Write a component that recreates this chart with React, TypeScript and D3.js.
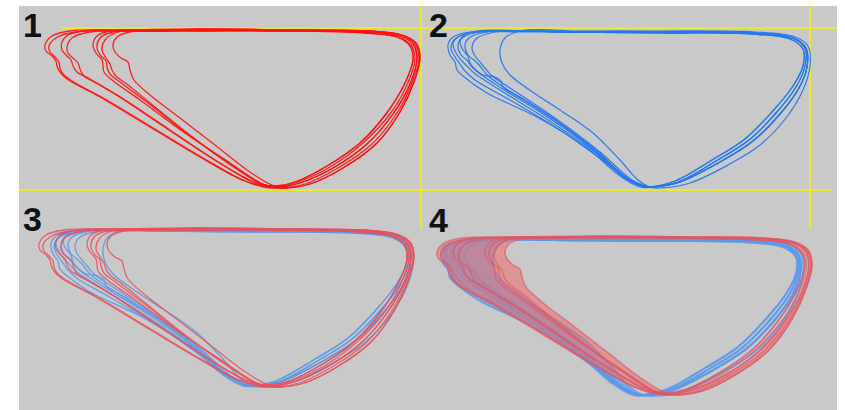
import React from 'react';
import * as d3 from 'd3';

type Pt = [number, number];

// Loop data: x = volume (arbitrary units), y = pressure (arbitrary units)
const panelLabels = ['1', '2', '3', '4'];

// shared right-hand arcs (bottom point -> right side -> top line) for the red loops
const redArcs: Pt[][] = [
  [[285, 2], [310, 6], [343, 22], [377, 47], [400, 78], [414, 108], [420, 132], [416, 147], [402, 155], [370, 159], [300, 160], [200, 161]],
  [[280, 3], [300, 7], [333, 22], [367, 46], [393, 76], [410, 106], [417, 132], [413, 146], [400, 154], [367, 158], [300, 159], [200, 160]],
  [[275, 4], [295, 8], [327, 24], [360, 47], [386, 76], [404, 105], [413, 130], [410, 144], [397, 153], [365, 157], [300, 159], [200, 159]],
  [[283, 2], [305, 6], [338, 22], [372, 46], [397, 77], [412, 107], [419, 131], [415, 146], [401, 155], [368, 159], [300, 160], [200, 160]],
  [[278, 3], [298, 8], [330, 23], [363, 47], [390, 76], [407, 105], [415, 131], [411, 145], [398, 153], [366, 158], [300, 159], [200, 160]],
];

// left-hand parts (top line -> lobe with notch -> diagonal to bottom) for the red loops
const redLobes: Pt[][] = [
  [[120, 160], [70, 159], [52, 154], [45, 145], [46, 139], [52, 134], [56, 129], [57, 124], [60, 118], [67, 111], [100, 93], [150, 63], [200, 33], [240, 11], [264, 3]],
  [[125, 159], [75, 158], [56, 152], [49, 144], [50, 138], [55, 133], [59, 128], [60, 122], [63, 116], [72, 109], [105, 91], [155, 61], [205, 31], [245, 9], [268, 3]],
  [[130, 160], [85, 159], [68, 155], [62, 148], [62, 140], [67, 134], [71, 130], [73, 124], [77, 118], [90, 111], [115, 96], [160, 66], [210, 33], [250, 10], [272, 3]],
  [[135, 159], [90, 158], [72, 152], [67, 143], [68, 137], [74, 131], [78, 127], [80, 121], [84, 114], [98, 106], [125, 90], [170, 60], [215, 30], [252, 8], [262, 5]],
  [[150, 160], [110, 159], [97, 154], [93, 145], [96, 137], [102, 130], [103, 124], [104, 118], [112, 110], [140, 90], [185, 57], [230, 27], [262, 6], [274, 3]],
  [[155, 159], [113, 158], [100, 152], [97, 142], [101, 134], [106, 129], [107, 123], [110, 116], [120, 108], [148, 87], [190, 54], [235, 23], [265, 5], [278, 3]],
  [[160, 159], [118, 158], [105, 150], [102, 140], [106, 132], [110, 126], [112, 120], [116, 114], [128, 105], [155, 83], [195, 51], [238, 20], [262, 6]],
  [[170, 159], [130, 158], [117, 153], [113, 145], [115, 138], [121, 132], [128, 128], [130, 120], [134, 110], [150, 95], [180, 72], [215, 45], [250, 18], [272, 5]],
];
const redArcOf = [0, 1, 3, 2, 4, 0, 2, 1];

const blueArcs: Pt[][] = [
  [[255, 3], [280, 8], [320, 28], [353, 49], [380, 76], [399, 102], [407, 123], [406, 142], [393, 152], [353, 157], [250, 158], [160, 158]],
  [[250, 3], [275, 9], [312, 30], [345, 51], [372, 78], [393, 104], [403, 124], [403, 141], [390, 151], [350, 156], [250, 157], [160, 158]],
  [[260, 2], [290, 7], [328, 25], [360, 45], [386, 72], [403, 100], [410, 124], [408, 144], [395, 153], [355, 158], [250, 159], [160, 159]],
  [[252, 3], [278, 8], [316, 29], [349, 50], [376, 77], [396, 103], [405, 124], [405, 142], [392, 152], [352, 157], [250, 158], [160, 158]],
];

const blueLobes: Pt[][] = [
  [[120, 159], [70, 158], [53, 153], [48, 145], [50, 135], [55, 128], [57, 120], [63, 114], [87, 97], [137, 73], [187, 42], [220, 14], [240, 3]],
  [[125, 159], [75, 158], [58, 153], [53, 147], [56, 137], [62, 129], [68, 123], [74, 117], [100, 100], [145, 72], [192, 40], [225, 12], [245, 3]],
  [[130, 159], [80, 158], [62, 152], [58, 145], [61, 135], [67, 130], [72, 123], [83, 115], [95, 113], [101, 109], [103, 103], [120, 93], [160, 67], [200, 35], [230, 10], [248, 3]],
  [[135, 159], [87, 158], [69, 152], [65, 145], [68, 135], [74, 130], [80, 124], [87, 115], [105, 102], [150, 73], [196, 40], [228, 11], [248, 3]],
  [[140, 159], [95, 158], [76, 151], [72, 142], [75, 134], [80, 128], [85, 122], [91, 115], [110, 102], [155, 72], [200, 38], [232, 10], [250, 3]],
  [[122, 158], [68, 157], [54, 150], [51, 142], [55, 133], [60, 126], [65, 119], [75, 110], [110, 90], [160, 60], [205, 28], [232, 8], [246, 3]],
  [[128, 159], [78, 159], [63, 154], [60, 148], [63, 140], [68, 134], [70, 127], [78, 118], [98, 104], [143, 76], [190, 43], [224, 13], [244, 3]],
  [[170, 159], [120, 159], [105, 152], [100, 140], [102, 127], [110, 115], [137, 95], [160, 80], [193, 57], [220, 30], [238, 10], [250, 3]],
];
const blueArcOf = [0, 1, 2, 3, 0, 3, 1, 0];

const redLoops: Pt[][] = redLobes.map((l, i) => l.concat(redArcs[redArcOf[i]]));
const blueLoops: Pt[][] = blueLobes.map((l, i) => l.concat(blueArcs[blueArcOf[i]]));

const W = 845;
const H = 410;

function makeLine(ox: number, oy: number) {
  const x = d3.scaleLinear().domain([0, 420]).range([ox, ox + 420]);
  const y = d3.scaleLinear().domain([0, 160]).range([oy + 190, oy + 30]);
  return d3
    .line<Pt>()
    .x((d) => x(d[0]))
    .y((d) => y(d[1]))
    .curve(d3.curveCatmullRomClosed.alpha(0.5));
}

export default function App() {
  const l1 = makeLine(0, 0);
  const l2 = makeLine(400, 0);
  const l3r = makeLine(-6, 199);
  const l3b = makeLine(3, 199);
  const l4r = makeLine(392, 207);
  const l4b = makeLine(393, 208);

  const yellow = '#f2f200';
  const bandRed = (l4r(redLoops[0]) || '') + (l4r(redLoops[7]) || '');
  const bandBlue = (l4b(blueLoops[0]) || '') + (l4b(blueLoops[7]) || '');

  const labelPos: [number, number][] = [
    [23, 37],
    [429, 37],
    [23, 231],
    [429, 232],
  ];

  return (
    <svg
      width={W}
      height={H}
      style={{ position: 'absolute', left: 0, top: 0, background: '#fff' }}
    >
      <rect x={19} y={6} width={818} height={404} fill="#c9c9c9" />

      {/* yellow guide lines */}
      <g stroke={yellow} strokeWidth={1.6}>
        <line x1={62} x2={837} y1={28} y2={28} />
        <line x1={19} x2={832} y1={190} y2={190} />
        <line x1={421} x2={421} y1={6} y2={229} />
        <line x1={810} x2={810} y1={6} y2={229} />
      </g>

      {/* panel 1 */}
      <g fill="none" stroke="#ff1010" strokeWidth={1.3} strokeOpacity={0.9}>
        {redLoops.map((d, i) => (
          <path key={i} d={l1(d) || ''} />
        ))}
      </g>

      {/* panel 2 */}
      <g fill="none" stroke="#2277ee" strokeWidth={1.2} strokeOpacity={0.95}>
        {blueLoops.map((d, i) => (
          <path key={i} d={l2(d) || ''} />
        ))}
      </g>

      {/* panel 3 */}
      <g fill="none" stroke="#5c9ae8" strokeWidth={1.3} strokeOpacity={0.9}>
        {blueLoops.map((d, i) => (
          <path key={i} d={l3b(d) || ''} />
        ))}
      </g>
      <g fill="none" stroke="#e8505c" strokeWidth={1.3} strokeOpacity={0.85}>
        {redLoops.map((d, i) => (
          <path key={i} d={l3r(d) || ''} />
        ))}
      </g>

      {/* panel 4 */}
      <path d={bandBlue} fill="#5c9ae8" fillOpacity={0.6} fillRule="evenodd" stroke="none" />
      <g fill="none" stroke="#5c9ae8" strokeWidth={2} strokeOpacity={0.8}>
        {blueLoops.map((d, i) => (
          <path key={i} d={l4b(d) || ''} />
        ))}
      </g>
      <path d={bandRed} fill="#ec6a6a" fillOpacity={0.55} fillRule="evenodd" stroke="none" />
      <g fill="none" stroke="#e05566" strokeWidth={1.6} strokeOpacity={0.6}>
        {redLoops.map((d, i) => (
          <path key={i} d={l4r(d) || ''} />
        ))}
      </g>

      {/* panel numbers */}
      {panelLabels.map((t, i) => (
        <text
          key={t}
          x={labelPos[i][0]}
          y={labelPos[i][1]}
          fontFamily="Liberation Sans, Arial, sans-serif"
          fontWeight="bold"
          fontSize={34}
          fill="#111"
        >
          {t}
        </text>
      ))}
    </svg>
  );
}
